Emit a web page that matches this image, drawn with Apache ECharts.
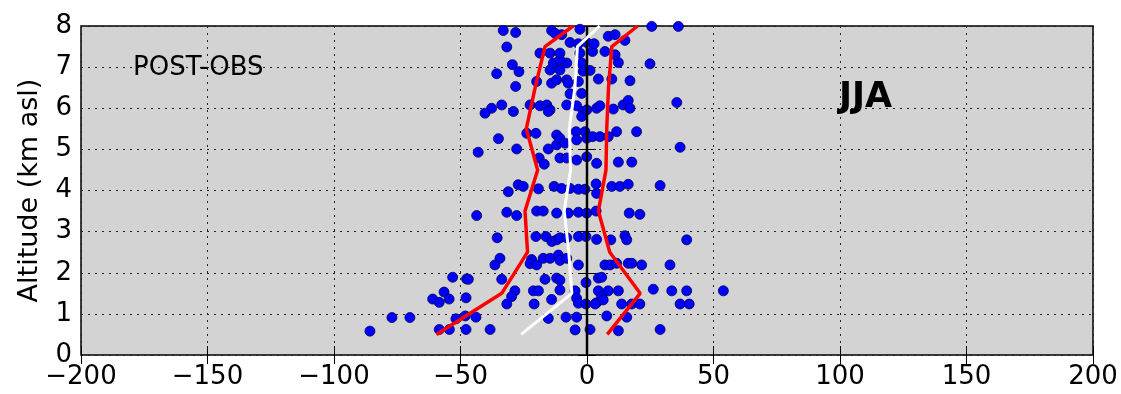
<!DOCTYPE html>
<html>
<head>
<meta charset="utf-8">
<script src="https://cdn.jsdelivr.net/npm/echarts@6/dist/echarts.min.js"></script>
<style>
  html, body { margin: 0; padding: 0; background: #fff; }
  #chart { width: 1121px; height: 394px; }
</style>
</head>
<body>
<div id="chart"></div>
<script>
// bias (x) vs altitude in km (y), one dot per observation
const obsPoints = [
  [-53.1, 1.89], [-47.6, 1.85], [-56.5, 1.53], [-61, 1.36], [-58.4, 1.28], [-54.5, 1.36], [-47.8, 1.39],
  [-77.1, 0.91], [-70, 0.91], [-51.8, 0.88], [-48.1, 0.95], [-85.8, 0.58], [-58.4, 0.62], [-54.4, 0.62],
  [-47.8, 0.62], [-43.9, 0.92], [-38.3, 0.62],
  [-35.5, 2.85], [-20.2, 2.88], [-16.2, 2.88], [-13.9, 2.76], [-12, 2.8], [-10.7, 2.85], [-8, 2.85],
  [-3.4, 2.88], [-0.4, 2.88], [3.8, 2.81], [9.4, 2.8], [15, 2.9], [15.7, 2.8], [39.4, 2.8],
  [-34.4, 2.35], [-36.4, 2.19], [-21.9, 2.32], [-22.5, 2.22], [-19.9, 2.19], [-17.3, 2.35], [-14.6, 2.35],
  [-11.3, 2.43], [-10.7, 2.3], [-8, 2.35], [-3.4, 2.19], [7.1, 2.19], [9.1, 2.19], [11.7, 2.23],
  [16.3, 2.23], [17.7, 2.23], [21.6, 2.19], [32.8, 2.19],
  [-46.9, 1.84], [-33.7, 1.84], [-16.6, 1.84], [-12, 1.87], [-10.7, 1.82], [-0.4, 1.76], [4.5, 1.87], [5.8, 1.89],
  [-28.5, 1.56], [-29.8, 1.42], [-31.7, 1.24], [-21.2, 1.56], [-19.2, 1.56], [-20.9, 1.24],
  [-14, 1.35], [-10.7, 1.58], [-4.7, 1.56], [-4.1, 1.38], [-3.4, 1.26], [-0.4, 1.24], [3.8, 1.27],
  [4.5, 1.56], [8.4, 1.56], [12.4, 1.56], [5.8, 1.42], [6.4, 1.34], [26.2, 1.6], [33.5, 1.56],
  [39.4, 1.56], [53.9, 1.56], [3.2, 1.24], [13.7, 1.24], [17.7, 1.24], [20.9, 1.24], [36.8, 1.24], [40.4, 1.24],
  [-15.3, 0.89], [-8.3, 0.92], [-4.1, 0.92], [7.8, 0.95], [15.7, 0.92],
  [-4.7, 0.61], [1.2, 0.62], [12.4, 0.59], [28.9, 0.62],
  [-43.6, 3.39], [-31.7, 3.47], [-27.8, 3.39], [-19.9, 3.5], [-17.3, 3.5], [-12, 3.45], [-7.4, 3.45],
  [-3.4, 3.47], [-0.1, 3.45], [3.6, 3.5], [16.7, 3.45], [20.9, 3.42],
  [-31.1, 3.97], [-27.2, 4.14], [-25.2, 4.1], [-19.2, 4.04], [-13, 4.1], [-10, 4.05], [-6.7, 4.05],
  [-3.4, 4.03], [-0.8, 4.03], [3.6, 4.16], [3.8, 3.93], [9.8, 4.1], [13, 4.1], [16.3, 4.15], [28.9, 4.12],
  [-18.9, 4.79], [-16.9, 4.64], [-10.7, 4.79], [-8, 4.79], [-4.1, 4.74], [-0.1, 4.82], [3.8, 4.66],
  [12.4, 4.69], [17.7, 4.69],
  [-35, 5.26], [-43, 4.93], [-27.8, 5.01], [-15.3, 5.01], [-12, 5.11], [36.8, 5.05],
  [-23.8, 5.39], [-20.2, 5.39], [-12, 5.35], [-10.7, 5.27], [-8.7, 5.15], [-4.3, 5.43], [-4.1, 5.23],
  [-0.8, 5.43], [-0.1, 5.27], [2.2, 5.31], [5.1, 5.31], [8.4, 5.31], [11.7, 5.43], [19.6, 5.43],
  [-37.7, 6.0], [-33.7, 6.08], [-40.3, 5.88], [-29.1, 5.92], [-22.5, 6.08], [-18.6, 6.06], [-15.9, 6.08],
  [-14.6, 5.96], [-15.3, 5.92], [-8, 6.08], [-4.1, 6.06], [-1.5, 5.92], [-2.1, 5.8], [-0.1, 5.96], [3.8, 6.0],
  [5.1, 6.06], [10.4, 5.98], [14.3, 6.08], [16.3, 6.19], [17, 6.0], [35.5, 6.14],
  [-2.1, 6.36], [-6.7, 6.35], [-28.2, 6.53],
  [-19.9, 6.65], [-14, 6.61], [-12, 6.69], [-8, 6.69], [-7.4, 6.61], [-3.4, 6.65], [4.5, 6.71], [9.8, 6.71], [17, 6.67],
  [-35.7, 6.84], [-26.9, 6.89], [-29.5, 7.06], [-14.6, 6.93], [-10.7, 6.93], [-1.5, 6.9], [1.2, 6.92],
  [-13.3, 7.1], [-8, 7.1], [-2.1, 7.1], [-10.7, 7.18], [12.4, 7.11], [24.9, 7.08],
  [-18.6, 7.34], [-14.6, 7.34], [-10.7, 7.34], [-2.8, 7.34], [2.2, 7.38], [7.1, 7.38], [11.1, 7.3],
  [-31.7, 7.49], [-6.7, 7.6], [-3.4, 7.57], [-0.1, 7.6], [2.8, 7.57], [15, 7.65], [8.4, 7.75], [11.1, 7.79],
  [-33.1, 7.89], [-28.2, 7.84], [-14, 7.89], [-12.6, 7.82], [-10, 7.79], [-2.8, 7.92], [25.6, 7.99], [36.1, 7.99]
];

// profile altitudes and the three curves
const profileAlt = [0.5, 1.5, 2.5, 3.5, 4.5, 5.5, 6.5, 7.5, 8.0];
const lowerBound = [-59.5, -33.7, -23.5, -24.5, -19.5, -24, -20.5, -16.6, -5.5];
const upperBound = [8, 21, 9, 4.5, 7.5, 7.8, 8.5, 9.8, 20];
const meanBias = [-26, -6, -7.2, -9, -6.5, -7, -4.8, -3.8, 5];

const xTicks = [-200, 200, 50];
const yTicks = [0, 8, 1];

const FONT = 'DejaVu Sans';
const pair = (xs) => xs.map((x, i) => [x, profileAlt[i]]);
const minus = (v) => String(v).replace('-', '\u2212');

const tickStyle = { inside: true, length: 9, lineStyle: { color: '#000', width: 1 } };
const gridLine = { show: true, lineStyle: { color: '#222', type: [2, 5], width: 1 } };

const chart = echarts.init(document.getElementById('chart'));
chart.setOption({
  animation: false,
  grid: {
    left: 81, right: 28, top: 26, bottom: 39,
    show: true, backgroundColor: '#d3d3d3', borderColor: '#000', borderWidth: 1.5
  },
  xAxis: [
    {
      type: 'value', min: xTicks[0], max: xTicks[1], interval: xTicks[2],
      axisLine: { show: false }, axisTick: tickStyle, splitLine: gridLine,
      axisLabel: { color: '#000', fontFamily: FONT, fontSize: 26, margin: 9, formatter: minus }
    },
    {
      type: 'value', position: 'top', min: xTicks[0], max: xTicks[1], interval: xTicks[2],
      axisLine: { show: false }, axisTick: tickStyle, splitLine: { show: false }, axisLabel: { show: false }
    }
  ],
  yAxis: [
    {
      type: 'value', min: yTicks[0], max: yTicks[1], interval: yTicks[2],
      name: 'Altitude (km asl)', nameLocation: 'middle', nameGap: 38,
      nameTextStyle: { color: '#000', fontFamily: FONT, fontSize: 27 },
      axisLine: { show: false }, axisTick: tickStyle, splitLine: gridLine,
      axisLabel: { color: '#000', fontFamily: FONT, fontSize: 26, margin: 9 }
    },
    {
      type: 'value', position: 'right', min: yTicks[0], max: yTicks[1], interval: yTicks[2],
      axisLine: { show: false }, axisTick: tickStyle, splitLine: { show: false }, axisLabel: { show: false }
    }
  ],
  series: [
    {
      type: 'scatter', data: obsPoints, symbolSize: 10, z: 2,
      itemStyle: { color: '#0000ff', borderColor: '#00005a', borderWidth: 0.8, opacity: 1 }
    },
    {
      type: 'line', data: [[0, 0], [0, 8]], symbol: 'none', z: 5,
      lineStyle: { color: '#000', width: 2.5 }
    },
    {
      type: 'line', data: pair(meanBias), symbol: 'none', z: 6,
      lineStyle: { color: '#fff', width: 3 }
    },
    {
      type: 'line', data: pair(lowerBound), symbol: 'none', z: 6,
      lineStyle: { color: '#ff0000', width: 3.5 }
    },
    {
      type: 'line', data: pair(upperBound), symbol: 'none', z: 6,
      lineStyle: { color: '#ff0000', width: 3.5 }
    }
  ],
  graphic: [
    {
      type: 'text', left: 133, top: 55, z: 10,
      style: { text: 'POST-OBS', fill: '#000', font: '26px "DejaVu Sans"' }
    },
    {
      type: 'text', left: 839, top: 80, z: 10,
      style: { text: 'JJA', fill: '#000', font: 'bold 35px "DejaVu Sans"' }
    }
  ]
});
</script>
</body>
</html>
